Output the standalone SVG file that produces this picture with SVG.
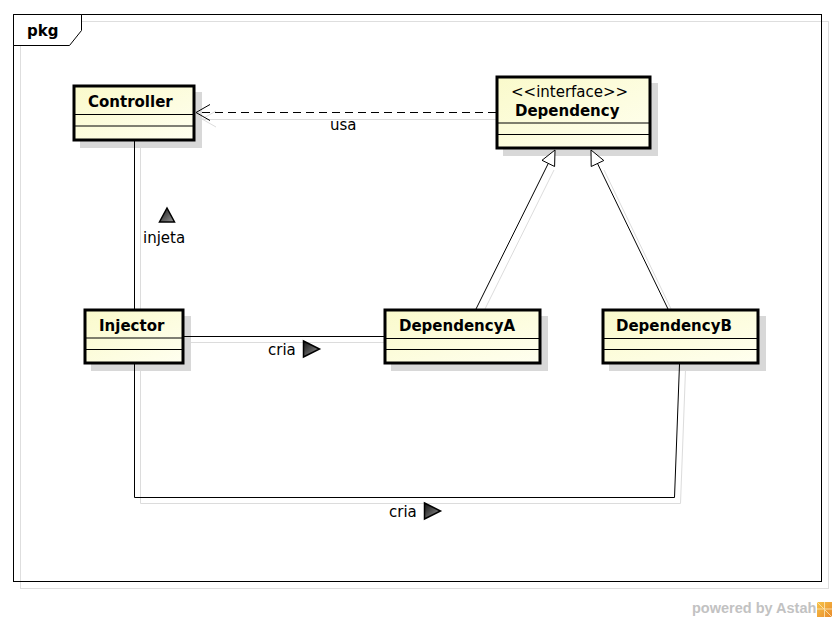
<svg xmlns="http://www.w3.org/2000/svg" width="836" height="622" viewBox="0 0 836 622">
<defs>
<linearGradient id="boxFill" x1="0" y1="0" x2="1" y2="1">
<stop offset="0" stop-color="#fafacb"/>
<stop offset="1" stop-color="#fffff0"/>
</linearGradient>
<linearGradient id="triFill" x1="0" y1="0" x2="1" y2="1">
<stop offset="0" stop-color="#111"/>
<stop offset="1" stop-color="#999"/>
</linearGradient>
<linearGradient id="logo" x1="0" y1="0" x2="1" y2="1">
<stop offset="0" stop-color="#f6c34a"/>
<stop offset="1" stop-color="#e98a2a"/>
</linearGradient>
<style>
.frame{fill:none;stroke:#000;stroke-width:1}
.fshadow{fill:none;stroke:#dedede;stroke-width:1}
.tab{fill:#fff;stroke:#000;stroke-width:1}
.box{fill:url(#boxFill);stroke:#000;stroke-width:3}
.bshadow{fill:#d8d8d8;stroke:none}
.sep{stroke:#000;stroke-width:1}
.name{font-family:"DejaVu Sans",sans-serif;font-weight:bold;font-size:15px;fill:#000}
.stereo{font-family:"DejaVu Sans",sans-serif;font-size:15px;fill:#000}
.lbl{font-family:"DejaVu Sans",sans-serif;font-size:15px;fill:#000}
.line{fill:none;stroke:#000;stroke-width:1}
.dash{fill:none;stroke:#000;stroke-width:1;stroke-dasharray:8,5}
.lshadow{fill:none;stroke:#dcdcdc;stroke-width:1}
.gen{fill:#fff;stroke:#000;stroke-width:1}
.tri{fill:url(#triFill);stroke:#000;stroke-width:1.5;stroke-linejoin:miter}
.wm{font-family:"Liberation Sans",Arial,sans-serif;font-weight:bold;font-size:14.5px;fill:#c2c2c2}
</style>
</defs>
<rect width="836" height="622" fill="#fff"/>
<g id="frame">
<rect class="fshadow" x="20.5" y="21.5" width="808" height="567"/>
<rect class="frame" x="13.5" y="14.5" width="808" height="567"/>
<path class="tab" d="M13.5,14.5 H81.5 V30.5 L69.5,45.5 H13.5 Z"/>
<text class="name" x="27" y="36">pkg</text>
</g>
<g id="connector-shadows">
<path class="lshadow" d="M202,119.5 H502"/>
<path class="lshadow" d="M216,111 L202,119 L216,127"/>
<path class="lshadow" d="M140.5,146 V315"/>
<path class="lshadow" d="M190,342.5 H390"/>
<path class="lshadow" d="M140.5,370 V503.5 H680.5 L685.5,370"/>
<path class="lshadow" d="M482,315 L554,170"/>
<path class="lshadow" d="M674,315 L604,170"/>
</g>
<g id="node-shadows">
<rect class="bshadow" x="80" y="92" width="122" height="56"/>
<rect class="bshadow" x="503" y="83" width="155" height="73"/>
<rect class="bshadow" x="91" y="316" width="100" height="55"/>
<rect class="bshadow" x="391" y="316" width="157" height="55"/>
<rect class="bshadow" x="609" y="316" width="157" height="55"/>
</g>
<g id="connectors">
<g id="usa">
<path class="dash" d="M496,112.5 H197"/>
<path class="line" d="M210,104.5 L196,112.5 L210,120.5"/>
<text class="lbl" x="330" y="130">usa</text>
</g>
<g id="injeta">
<path class="line" d="M134.5,141 V309"/>
<path class="tri" d="M167,208 L174.5,222 L159.5,222 Z"/>
<text class="lbl" x="143" y="243">injeta</text>
</g>
<g id="cria-a">
<path class="line" d="M184,336.5 H384"/>
<text class="lbl" x="268" y="355">cria</text>
<path class="tri" d="M303.5,341 L319.5,349 L303.5,357 Z"/>
</g>
<g id="cria-b">
<path class="line" d="M134.5,364 V497.5 H674.5 L679.5,364"/>
<text class="lbl" x="389" y="517">cria</text>
<path class="tri" d="M424.5,503 L440.5,511 L424.5,519 Z"/>
</g>
<g id="gen-a">
<path class="line" d="M476,309 L548.3,163.4"/>
<path class="gen" d="M555,150 L554.6,166.5 L542,160.3 Z"/>
</g>
<g id="gen-b">
<path class="line" d="M668,309 L597.5,163.5"/>
<path class="gen" d="M591,150 L603.8,160.5 L591.2,166.5 Z"/>
</g>
</g>
<g id="Controller">
<rect class="box" x="74" y="86" width="120" height="54"/>
<line class="sep" x1="74" y1="114.5" x2="194" y2="114.5"/>
<line class="sep" x1="74" y1="126" x2="194" y2="126"/>
<text class="name" x="88" y="107">Controller</text>
</g>
<g id="Dependency">
<rect class="box" x="497" y="77" width="153" height="71"/>
<line class="sep" x1="497" y1="123" x2="650" y2="123"/>
<line class="sep" x1="497" y1="134.5" x2="650" y2="134.5"/>
<text class="stereo" x="511" y="97">&lt;&lt;interface&gt;&gt;</text>
<text class="name" x="515" y="116">Dependency</text>
</g>
<g id="Injector">
<rect class="box" x="85" y="310" width="98" height="53"/>
<line class="sep" x1="85" y1="338" x2="183" y2="338"/>
<line class="sep" x1="85" y1="349.5" x2="183" y2="349.5"/>
<text class="name" x="99" y="331">Injector</text>
</g>
<g id="DependencyA">
<rect class="box" x="385" y="310" width="155" height="53"/>
<line class="sep" x1="385" y1="338.5" x2="540" y2="338.5"/>
<line class="sep" x1="385" y1="349.5" x2="540" y2="349.5"/>
<text class="name" x="399" y="331">DependencyA</text>
</g>
<g id="DependencyB">
<rect class="box" x="603" y="310" width="155" height="53"/>
<line class="sep" x1="603" y1="338.5" x2="758" y2="338.5"/>
<line class="sep" x1="603" y1="349.5" x2="758" y2="349.5"/>
<text class="name" x="616" y="331">DependencyB</text>
</g>
<g id="watermark">
<text class="wm" x="692" y="613">powered by Astah</text>
<rect x="817" y="602" width="15" height="15" fill="url(#logo)"/>
<path d="M817,609 H832 M824.5,602 V617 M817,602 L832,617" stroke="#fff4d0" stroke-width="1" opacity="0.7"/>
</g>
</svg>
